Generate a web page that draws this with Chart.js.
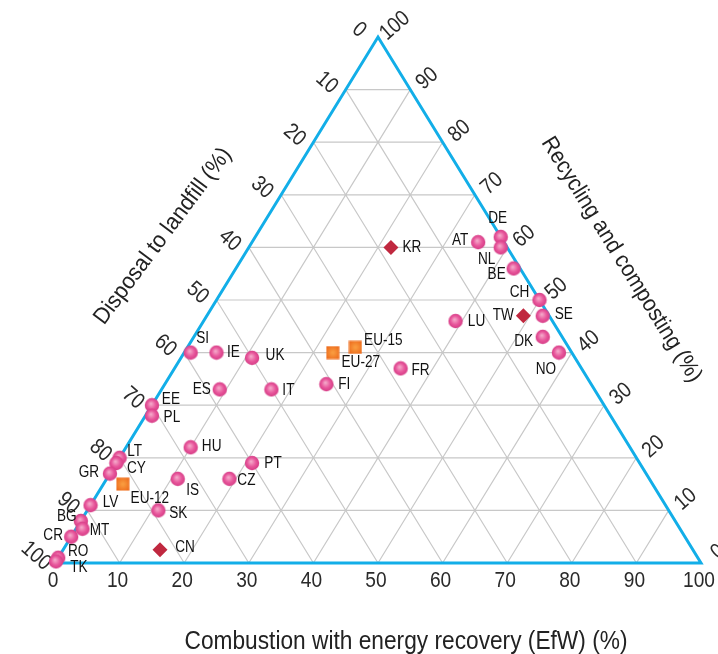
<!DOCTYPE html>
<html>
<head>
<meta charset="utf-8">
<script src="https://cdn.jsdelivr.net/npm/chart.js@4"></script>
<style>
body{margin:0;background:#fff;}
#wrap{width:718px;height:654px;}
</style>
</head>
<body>
<div id="wrap"><canvas id="ternaryChart" width="718" height="654"></canvas></div>
<script>
// shares in % (recycling + EfW + landfill = 100)
const countries = ["DE","AT","NL","BE","CH","SE","LU","DK","NO","SI","IE","UK","FR","FI","IT","ES","EE","PL","HU","LT","CY","PT","GR","IS","CZ","LV","SK","BG","MT","CR","RO","TK"];
const countryRecycling = [62,61,60,56,50,47,46,43,40,40,40,39,37,34,33,33,30,28,22,20,19,19,17,16,16,11,10,8,6.5,5,1,0.3];
const countryEfw = [38,35,39,43,50,52,39,54,58,1,5,11,35,25,17,9,0,1,10,0,0,21,0,11,19,0,11,0,1,0,0,0];
const countryLandfill = [0,4,1,1,0,1,15,3,2,59,55,50,28,41,50,58,70,71,68,80,81,60,83,73,65,89,79,92,92.5,95,99,99.7];

const euGroups = ["EU-15","EU-27","EU-12"];
const euRecycling = [41,40,15];
const euEfw = [26,23,3];
const euLandfill = [33,37,82];

const asia = ["KR","TW","CN"];
const asiaRecycling = [60,47,2.5];
const asiaEfw = [22,49,15];
const asiaLandfill = [18,4,82.5];

const tickValues = [0,10,20,30,40,50,60,70,80,90,100];

// label offsets (px) from the marker centre
const labelShift = {
DE:[-3,-18],AT:[-18,-2],NL:[-14,12],BE:[-17,6],CH:[-20,-7],SE:[21,-1],LU:[21,1],DK:[-19,5],NO:[-13,17],
SI:[12,-14],IE:[17,0],UK:[23,-2],FR:[20,2],FI:[18,0],IT:[17,1],ES:[-18,0],EE:[19,-6],PL:[20,2],
HU:[21,-1],LT:[15,-6],CY:[20,6],PT:[21,1],GR:[-21,-1],IS:[15,12],CZ:[17,2],LV:[20,-3],SK:[20,3],
BG:[-14,-4],MT:[17,2],CR:[-18,-1],RO:[20,-6],TK:[23,6],
"EU-15":[28,-7],"EU-27":[28,10],"EU-12":[27,14],KR:[21,0],TW:[-20,0],CN:[25,-2]
};

// ternary -> cartesian: x = EfW + recycling/2, y = recycling
function toXY(rec, efw, land){
  return rec.map((r,i)=>{
    const s = r + efw[i] + land[i];
    const rr = r/s*100, ee = efw[i]/s*100;
    return {x: ee + rr/2, y: rr};
  });
}

function dotImage(){
  const c = document.createElement("canvas");
  c.width = 16; c.height = 16;
  const g = c.getContext("2d");
  const grad = g.createRadialGradient(7,6.5,0.5,8,8,7.5);
  grad.addColorStop(0,"#f4a6c8");
  grad.addColorStop(0.55,"#e8579c");
  grad.addColorStop(1,"#d43a84");
  g.fillStyle = grad;
  g.beginPath(); g.arc(8,8,7.2,0,Math.PI*2); g.fill();
  return c;
}

function squareImage(){
  const c = document.createElement("canvas");
  c.width = 14; c.height = 14;
  const g = c.getContext("2d");
  const grad = g.createRadialGradient(7,7,1,7,7,9);
  grad.addColorStop(0,"#f99a3e");
  grad.addColorStop(1,"#ec6518");
  g.fillStyle = grad;
  g.fillRect(0.5,0.5,13,13);
  return c;
}

function drawText(ctx, s, x, y, size, rot, sx, color, baseline){
  ctx.save();
  ctx.translate(x,y);
  ctx.rotate(rot);
  ctx.scale(sx,1);
  ctx.font = size + 'px "Liberation Sans", Arial, sans-serif';
  ctx.fillStyle = color;
  ctx.textAlign = "center";
  ctx.textBaseline = baseline || "middle";
  ctx.fillText(s,0,0);
  ctx.restore();
}

function fitText(ctx, s, x, y, size, rot, width, color){
  ctx.save();
  ctx.font = size + 'px "Liberation Sans", Arial, sans-serif';
  const w = ctx.measureText(s).width;
  ctx.restore();
  drawText(ctx, s, x, y, size, rot, width / w, color, "alphabetic");
}

const ternaryPlugin = {
  id: "ternaryPlugin",
  beforeDatasetsDraw(chart){
    const {ctx} = chart;
    const sx = chart.scales.x, sy = chart.scales.y;
    const P = (e, r) => [sx.getPixelForValue(e + r/2), sy.getPixelForValue(r)];
    const seg = (a,b) => { ctx.moveTo(a[0],a[1]); ctx.lineTo(b[0],b[1]); };

    ctx.save();
    ctx.strokeStyle = "#c8c8c8";
    ctx.lineWidth = 1.2;
    ctx.beginPath();
    tickValues.slice(1,-1).forEach(k=>{
      seg(P(0,k), P(100-k,k));       // recycling constant
      seg(P(k,0), P(k,100-k));       // EfW constant
      seg(P(100-k,0), P(0,100-k));   // landfill constant
    });
    ctx.stroke();

    ctx.strokeStyle = "#12aee8";
    ctx.lineWidth = 3;
    ctx.lineJoin = "miter";
    ctx.beginPath();
    const a = P(0,0), b = P(100,0), c = P(0,100);
    ctx.moveTo(a[0],a[1]); ctx.lineTo(b[0],b[1]); ctx.lineTo(c[0],c[1]); ctx.closePath();
    ctx.stroke();
    ctx.restore();

    // tick labels
    const tickCol = "#2a2a2a";
    tickValues.forEach(t=>{
      const pb = P(t,0);
      drawText(ctx, String(t), pb[0]-2, pb[1]+18, 22, 0, 0.87, tickCol);
      const pl = P(0,100-t);
      drawText(ctx, String(t), pl[0]-19, pl[1]-7, 22, 0.72, 0.87, tickCol);
      const pr = P(100-t,t);
      drawText(ctx, String(t), pr[0]+17, pr[1]-11, 22, -0.72, 0.87, tickCol);
    });

    // axis titles
    fitText(ctx, "Disposal to landfill (%)", 168, 240, 23, -0.93, 214, "#222");
    fitText(ctx, "Recycling and composting (%)", 616, 263, 23, 1.015, 284, "#222");
    fitText(ctx, "Combustion with energy recovery (EfW) (%)", 406, 649, 25, 0, 443, "#222");
  },
  afterDatasetsDraw(chart){
    const {ctx} = chart;
    chart.data.datasets.forEach((ds,di)=>{
      const meta = chart.getDatasetMeta(di);
      meta.data.forEach((pt,i)=>{
        const name = ds.names[i];
        const off = labelShift[name] || [18,0];
        drawText(ctx, name, pt.x + off[0], pt.y + off[1], 16, 0, 0.85, "#111");
      });
    });
  }
};

new Chart(document.getElementById("ternaryChart"),{
  type: "scatter",
  data: {
    datasets: [
      {
        label: "EU aggregates",
        names: euGroups,
        data: toXY(euRecycling, euEfw, euLandfill),
        pointStyle: squareImage(),
        clip: false
      },
      {
        label: "Asia",
        names: asia,
        data: toXY(asiaRecycling, asiaEfw, asiaLandfill),
        pointStyle: "rectRot",
        pointRadius: 7.5,
        backgroundColor: "#c0283f",
        borderWidth: 0,
        clip: false
      },
      {
        label: "Countries",
        names: countries,
        data: toXY(countryRecycling, countryEfw, countryLandfill),
        pointStyle: dotImage(),
        clip: false
      }
    ]
  },
  options: {
    responsive: false,
    animation: false,
    layout: { padding: { left: 55, right: 17, top: 37, bottom: 91 } },
    scales: {
      x: { type: "linear", min: 0, max: 100, display: false },
      y: { type: "linear", min: 0, max: 100, display: false }
    },
    plugins: {
      legend: { display: false },
      tooltip: { enabled: false }
    }
  },
  plugins: [ternaryPlugin]
});
</script>
</body>
</html>
